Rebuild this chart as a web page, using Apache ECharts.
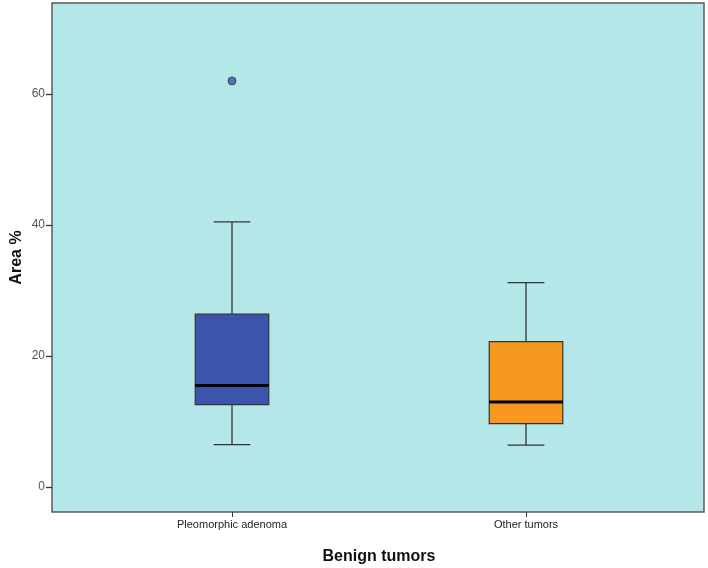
<!DOCTYPE html>
<html>
<head>
<meta charset="utf-8">
<script src="https://cdn.jsdelivr.net/npm/echarts@6/dist/echarts.min.js"></script>
<style>html,body{margin:0;padding:0;background:#fff}#c{width:708px;height:568px}</style>
</head>
<body>
<div id="c"></div>
<script>
// Data
const categories = ['Pleomorphic adenoma', 'Other tumors'];
const lowWhisker = [6.5, 6.4];
const q1 = [12.6, 9.7];
const median = [15.5, 13.0];
const q3 = [26.4, 22.2];
const highWhisker = [40.5, 31.2];
const outliers = [[0, 62.0]];
const boxColors = ['#3c55aa', '#f7981f'];
const yTicks = [0, 20, 40, 60];

const boxData = categories.map((c, i) => [i, lowWhisker[i], q1[i], median[i], q3[i], highWhisker[i]]);

const yMin = -3.8, yMax = 73.9;
const chart = echarts.init(document.getElementById('c'));
const font = 'Arial, "Liberation Sans", sans-serif';

chart.setOption({
  animation: false,
  grid: [
    { left: 52, right: 4, top: 3, bottom: 56, show: true, backgroundColor: '#b4e7e8', borderColor: '#5a5a5a', borderWidth: 1.5, containLabel: false, outerBoundsMode: 'none' },
    { left: 85, right: 35, top: 3, bottom: 56, containLabel: false, outerBoundsMode: 'none' }
  ],
  xAxis: [
    { gridIndex: 0, type: 'value', show: false, min: 0, max: 1 },
    {
      gridIndex: 1, type: 'category', data: categories, position: 'bottom',
      axisLine: { show: false, onZero: false },
      axisTick: { show: true, alignWithLabel: true, length: 5, lineStyle: { color: '#333' } },
      axisLabel: { fontFamily: font, fontSize: 11, color: '#222', margin: 7 },
      name: 'Benign tumors', nameLocation: 'middle', nameGap: 37, nameMoveOverlap: false,
      nameTextStyle: { fontFamily: font, fontSize: 16, fontWeight: 'bold', color: '#111' }
    }
  ],
  yAxis: [
    {
      gridIndex: 0, type: 'value', min: yMin, max: yMax,
      axisLine: { show: false },
      splitLine: { show: false },
      axisTick: { show: true, length: 6, lineStyle: { color: '#333', width: 1.3 }, customValues: yTicks },
      axisLabel: { fontFamily: font, fontSize: 12, color: '#555', margin: 7, customValues: yTicks },
      name: 'Area %', nameLocation: 'middle', nameGap: 27, nameMoveOverlap: false,
      nameTextStyle: { fontFamily: font, fontSize: 16, fontWeight: 'bold', color: '#111' }
    },
    { gridIndex: 1, type: 'value', min: yMin, max: yMax, show: false, splitLine: { show: false } }
  ],
  series: [
    {
      type: 'custom',
      xAxisIndex: 1, yAxisIndex: 1,
      data: boxData,
      encode: { x: 0, y: [1, 2, 3, 4, 5] },
      renderItem: function (params, api) {
        const i = api.value(0);
        const pLow = api.coord([i, api.value(1)]);
        const pQ1 = api.coord([i, api.value(2)]);
        const pMed = api.coord([i, api.value(3)]);
        const pQ3 = api.coord([i, api.value(4)]);
        const pHigh = api.coord([i, api.value(5)]);
        const band = api.size([1, 0])[0];
        const bw = band * 0.25;
        const cx = pLow[0];
        const stroke = { stroke: '#333', lineWidth: 1.3 };
        return {
          type: 'group',
          children: [
            { type: 'line', shape: { x1: cx, y1: pLow[1], x2: cx, y2: pQ1[1] }, style: stroke },
            { type: 'line', shape: { x1: cx, y1: pQ3[1], x2: cx, y2: pHigh[1] }, style: stroke },
            { type: 'line', shape: { x1: cx - bw / 4, y1: pLow[1], x2: cx + bw / 4, y2: pLow[1] }, style: stroke },
            { type: 'line', shape: { x1: cx - bw / 4, y1: pHigh[1], x2: cx + bw / 4, y2: pHigh[1] }, style: stroke },
            { type: 'rect', shape: { x: cx - bw / 2, y: pQ3[1], width: bw, height: pQ1[1] - pQ3[1] },
              style: { fill: boxColors[params.dataIndex], stroke: '#333', lineWidth: 1.2 } },
            { type: 'line', shape: { x1: cx - bw / 2, y1: pMed[1], x2: cx + bw / 2, y2: pMed[1] },
              style: { stroke: '#000', lineWidth: 3 } }
          ]
        };
      }
    },
    {
      type: 'scatter',
      xAxisIndex: 1, yAxisIndex: 1,
      data: outliers,
      symbol: 'circle', symbolSize: 8,
      itemStyle: { color: '#3c55aa', borderColor: '#333', borderWidth: 1 }
    }
  ]
});
</script>
</body>
</html>
